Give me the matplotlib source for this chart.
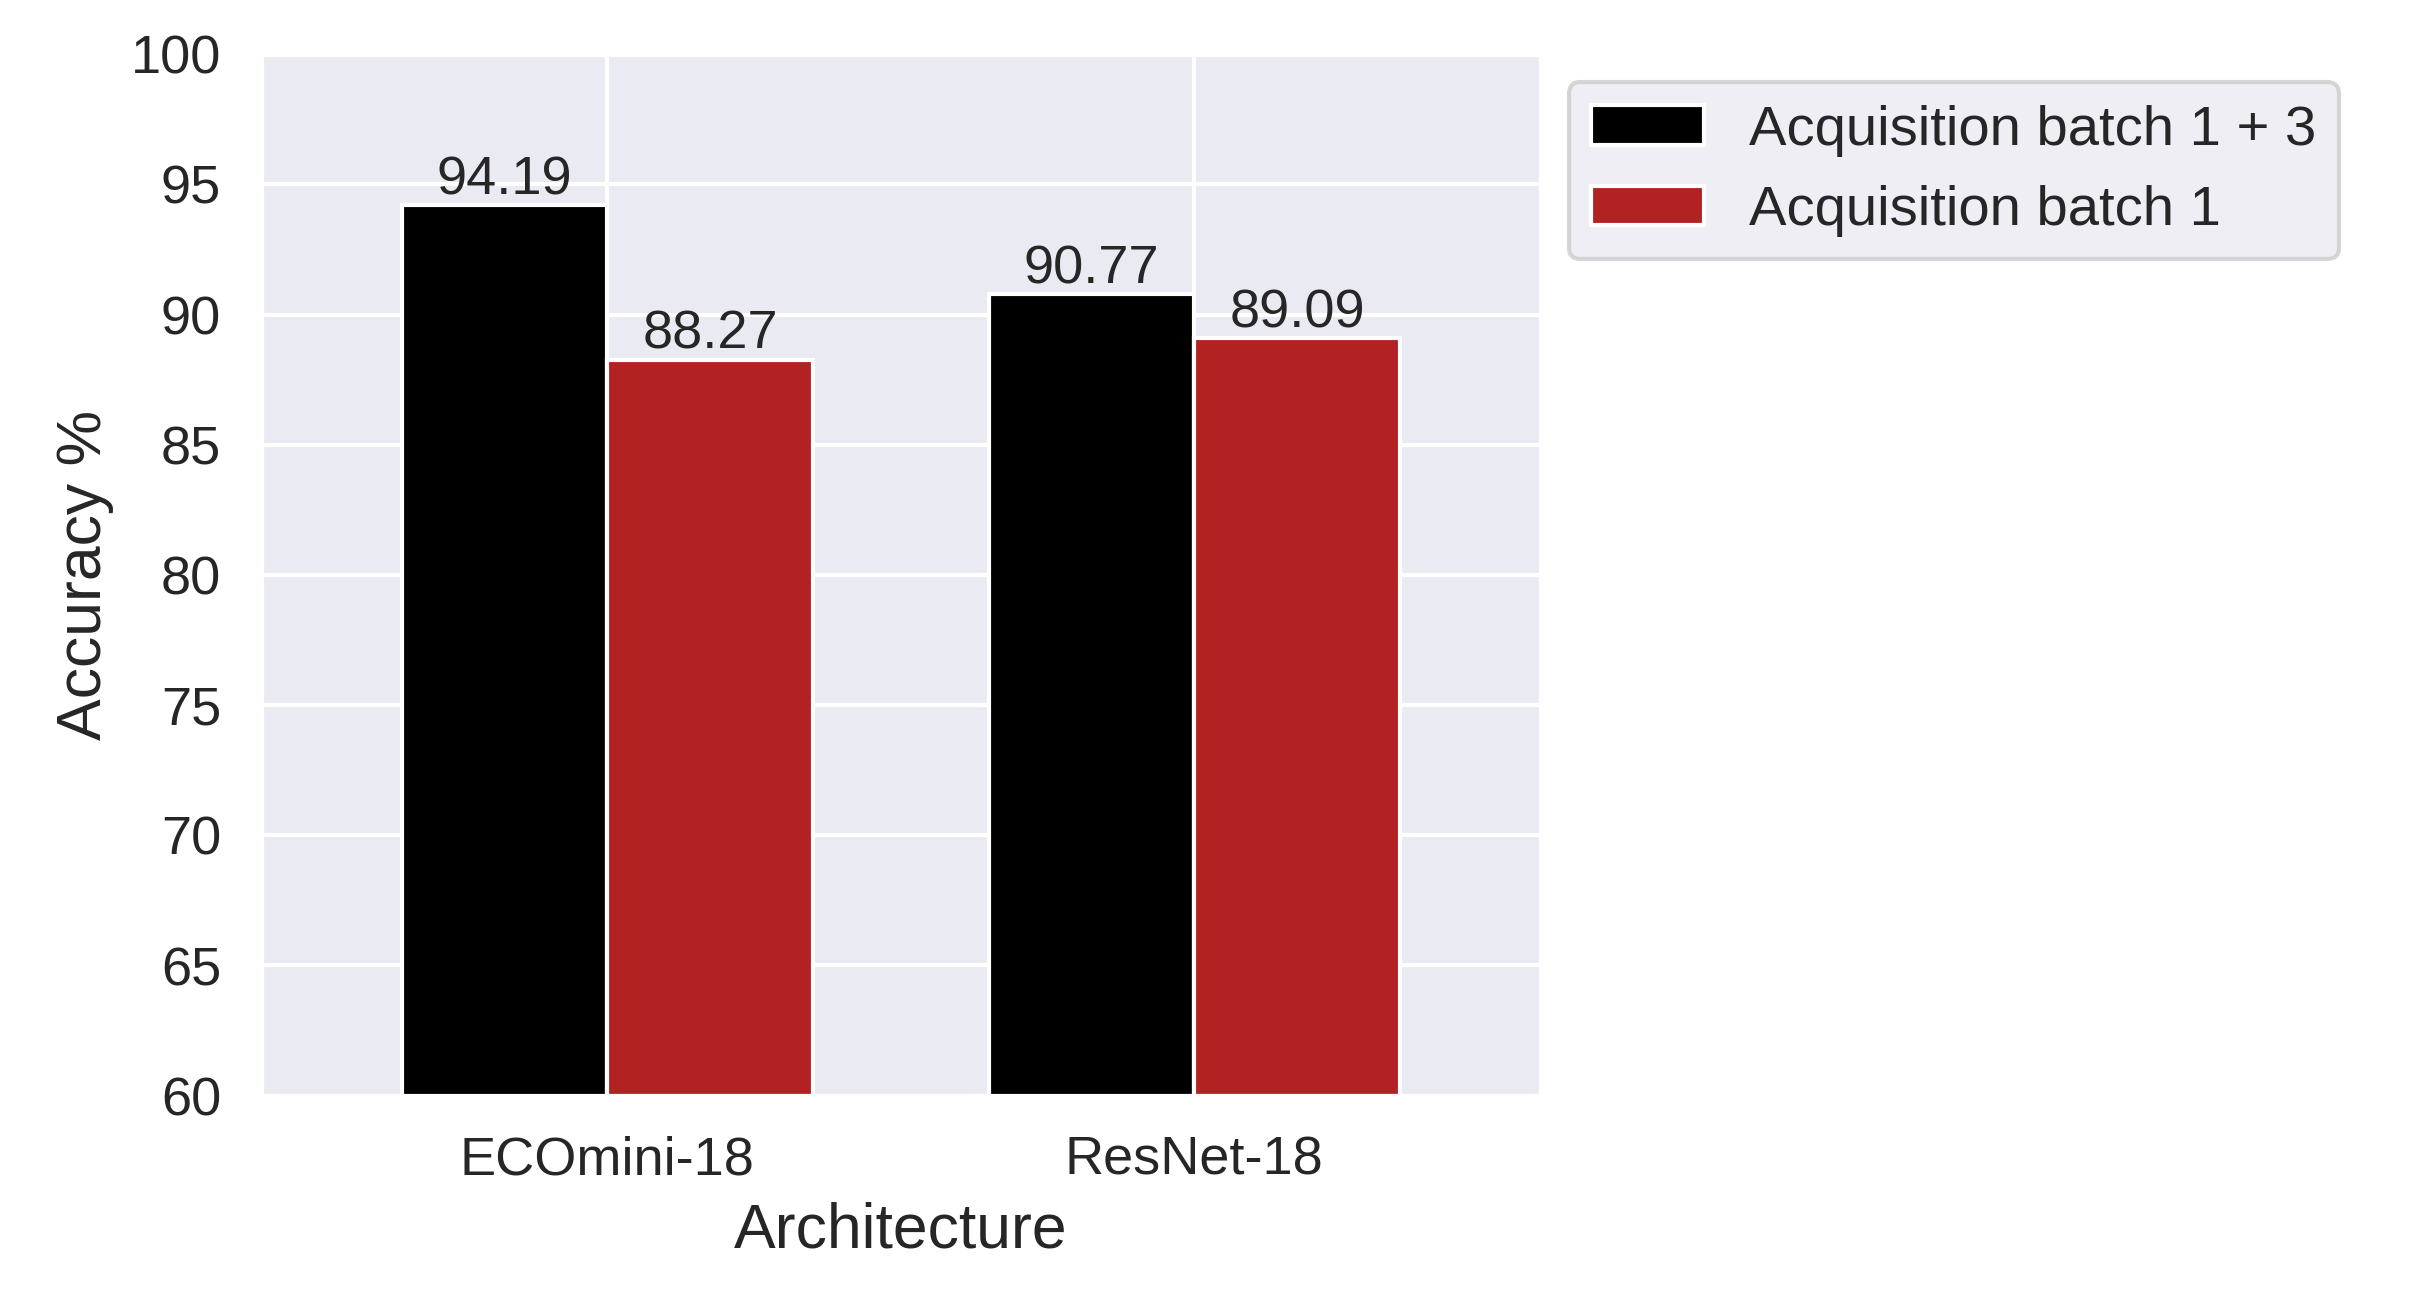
import numpy as np
import matplotlib
matplotlib.use("Agg")
import matplotlib.pyplot as plt
import seaborn as sns

architectures = ["ECOmini-18", "ResNet-18"]
batch_13 = [94.19, 90.77]
batch_1 = [88.27, 89.09]
series_labels = ["Acquisition batch 1 + 3", "Acquisition batch 1"]

sns.set_theme(style="darkgrid")
plt.rcParams['font.family'] = ['Liberation Sans', 'DejaVu Sans']

fig = plt.figure(figsize=(8.05, 4.307), dpi=300)
ax = fig.add_axes([0.108, 0.152, 0.53, 0.806])

x = np.arange(len(architectures))
w = 0.35
b1 = ax.bar(x - w / 2, batch_13, w, color="black", edgecolor="white", label=series_labels[0])
b2 = ax.bar(x + w / 2, batch_1, w, color="#b22222", edgecolor="white", label=series_labels[1])
ax.bar_label(b1, fmt="%.2f", fontsize=13, padding=0)
ax.bar_label(b2, fmt="%.2f", fontsize=13, padding=0)

ax.set_ylim(60, 100)
ax.set_xlim(-0.59, 1.59)
ax.set_xticks(x)
ax.set_xticklabels(architectures)
ax.tick_params(labelsize=13)
ax.set_xlabel("Architecture", fontsize=15)
ax.set_ylabel("Accuracy %", fontsize=15)
ax.legend(loc="upper left", bbox_to_anchor=(1.0, 1.0), fontsize=13.5)

fig.savefig("out.png", dpi=300)
